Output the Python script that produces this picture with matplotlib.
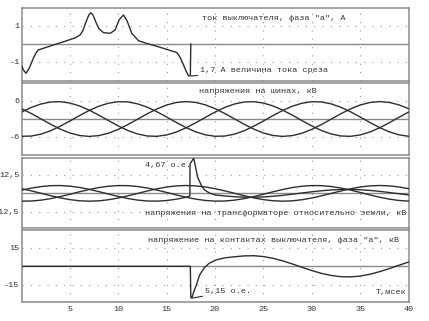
import matplotlib
matplotlib.use("Agg")
import matplotlib.pyplot as plt

# ---------------- data ----------------
# panel 1: breaker current, phase "a", A
cur_t = [0.0, 0.2, 0.47, 0.8, 1.22, 1.5, 1.74, 2.5, 3.5, 4.5, 5.5, 6.06, 6.35, 6.65, 6.95,
         7.16, 7.4, 7.7, 8.0, 8.47, 9.16, 9.68, 10.1, 10.54, 10.9, 11.4, 12.1, 13.0, 14.0,
         15.0, 16.07, 16.4, 16.75, 17.0, 17.27, 17.45, 17.5]
cur_v = [-1.17, -1.45, -1.63, -1.35, -0.8, -0.5, -0.33, -0.2, -0.02, 0.15, 0.33, 0.5, 0.75,
         1.2, 1.6, 1.74, 1.6, 1.2, 0.85, 0.63, 0.59, 0.78, 1.35, 1.61, 1.3, 0.59, 0.18, 0.02,
         -0.13, -0.3, -0.48, -0.75, -1.17, -1.5, -1.78, -1.75, 0.0]

# panel 2: bus voltages, kV (1 ms steps)
t_ms = list(range(0, 41))
bus_a = [2.30, 3.84, 4.99, 5.66, 5.77, 5.32, 4.35, 2.95, 1.27, -0.55,
         -2.30, -3.84, -4.99, -5.66, -5.77, -5.32, -4.35, -2.95, -1.27, 0.55,
         2.30, 3.84, 4.99, 5.66, 5.77, 5.32, 4.35, 2.95, 1.27, -0.55,
         -2.30, -3.84, -4.99, -5.66, -5.77, -5.32, -4.35, -2.95, -1.27, 0.55, 2.30]
bus_b = [-5.76, -5.69, -5.05, -3.93, -2.41, -0.67, 1.15, 2.85, 4.27, 5.27,
         5.76, 5.69, 5.05, 3.93, 2.41, 0.67, -1.15, -2.85, -4.27, -5.27,
         -5.76, -5.69, -5.05, -3.93, -2.41, -0.67, 1.15, 2.85, 4.27, 5.27,
         5.76, 5.69, 5.05, 3.93, 2.41, 0.67, -1.15, -2.85, -4.27, -5.27, -5.76]
bus_c = [3.46, 1.85, 0.06, -1.73, -3.36, -4.66, -5.50, -5.80, -5.53, -4.73,
         -3.46, -1.85, -0.06, 1.73, 3.36, 4.66, 5.50, 5.80, 5.53, 4.73,
         3.46, 1.85, 0.06, -1.73, -3.36, -4.66, -5.50, -5.80, -5.53, -4.73,
         -3.46, -1.85, -0.06, 1.73, 3.36, 4.66, 5.50, 5.80, 5.53, 4.73, 3.46]

# panel 3: transformer voltages to ground, kV
tr_a_t = [0, 1, 2, 3, 4, 5, 6, 7, 8, 9, 10, 11, 12, 13, 14, 15, 16, 17, 17.4, 17.42,
          17.8, 18.2, 18.6, 18.9, 19.4, 20, 21, 22, 23, 24, 25, 26, 27, 28, 29, 30, 31,
          32, 33, 34, 35, 36, 37, 38, 39, 40]
tr_a_v = [2.12, 3.53, 4.59, 5.21, 5.31, 4.89, 4.00, 2.71, 1.17, -0.51, -2.12, -3.53, -4.59,
          -5.21, -5.31, -4.89, -4.00, -2.71, -1.8, 20.0, 24.0, 11.0, 5.3, 2.4, 0.3, -1.06,
          -1.77, -2.30, -2.60, -2.65, -2.45, -2.00, -1.36, -0.58, 0.25, 1.06, 1.77, 2.30,
          2.60, 2.65, 2.45, 2.00, 1.36, 0.58, -0.25, -1.06]
tr_b_v = [-5.30, -5.23, -4.65, -3.62, -2.22, -0.62, 1.06, 2.62, 3.93, 4.85,
          5.30, 5.23, 4.65, 3.62, 2.22, 0.62, -1.06, -2.62, -3.93, -4.85,
          -5.30, -5.23, -4.65, -3.62, -2.22, -0.62, 1.06, 2.62, 3.93, 4.85,
          5.30, 5.23, 4.65, 3.62, 2.22, 0.62, -1.06, -2.62, -3.93, -4.85, -5.30]
tr_c_v = [3.18, 1.70, 0.06, -1.59, -3.09, -4.29, -5.06, -5.34, -5.09, -4.35,
          -3.18, -1.70, -0.06, 1.59, 3.09, 4.29, 5.06, 5.34, 5.09, 4.35,
          3.18, 1.70, 0.06, -1.59, -3.09, -4.29, -5.06, -5.34, -5.09, -4.35,
          -3.18, -1.70, -0.06, 1.59, 3.09, 4.29, 5.06, 5.34, 5.09, 4.35, 3.18]

# panel 4: voltage across breaker contacts, phase "a", kV
ct_t = [0, 17.45, 17.5, 17.6, 17.8, 18.06, 18.4, 18.9, 19.4, 20.1, 21, 22, 23, 24, 25, 26,
        27, 28, 29, 30, 31, 32, 33, 34, 35, 36, 37, 38, 39, 40]
ct_v = [0, 0, -25.5, -26.0, -21.0, -15.6, -7.3, -1.1, 2.5, 5.2, 6.9, 7.8, 8.5, 8.66,
        7.98, 6.53, 4.43, 1.91, -0.83, -3.45, -5.76, -7.49, -8.49, -8.66, -7.98, -6.53,
        -4.43, -1.91, 0.83, 3.45]

x_ticks = [5, 10, 15, 20, 25, 30, 35, 40]
x_tick_labels = ["5", "10", "15", "20", "25", "30", "35", "40"]

# ---------------- drawing ----------------
W, H = 429, 321
fig = plt.figure(figsize=(W / 100, H / 100), dpi=100)
FONT = "Liberation Mono"
FS = 6.1
CURVE = "#2e2e2e"
FRAME = "#8a8a8a"
GRID = "#9a9a9a"
TXT = "#333333"
DOTS = (0, (1, 6.5))

left, right = 21.5, 408.5


def make_ax(top_px, bot_px, ylim, yt, ytl):
    ax = fig.add_axes([left / W, 1 - bot_px / H, (right - left) / W, (bot_px - top_px) / H])
    ax.set_xlim(0, 40)
    ax.set_ylim(*ylim)
    for s in ax.spines.values():
        s.set_color(FRAME)
        s.set_linewidth(1.1)
    ax.set_xticks(x_ticks)
    ax.set_yticks(yt)
    ax.set_yticklabels(ytl, fontfamily=FONT, fontsize=FS, color=TXT)
    ax.tick_params(length=0, pad=1.5)
    ax.set_xticklabels([])
    for xv in x_ticks[:-1]:
        ax.axvline(xv, color=GRID, lw=0.8, ls=DOTS, zorder=1)
    for yv in yt:
        ax.axhline(yv, color=GRID, lw=0.8, ls=DOTS, zorder=1)
    ax.axhline(0, color=FRAME, lw=1.0, zorder=2)
    return ax


ax1 = make_ax(8, 81, (-2.06, 2.0), [1, -1], ["1", "-1"])
ax1.plot(cur_t, cur_v, color=CURVE, lw=1.0, zorder=3)
ax1.text(18.65, 1.43, 'ток выключателя, фаза "а", А', fontfamily=FONT, fontsize=FS,
         color=TXT, va="center")
ax1.annotate("1,7 А величина тока среза", xy=(17.5, -1.78), xytext=(18.5, -1.48),
             fontfamily=FONT, fontsize=FS, color=TXT, va="center",
             arrowprops=dict(arrowstyle="-", color=CURVE, lw=0.8, shrinkA=0, shrinkB=0))

ax2 = make_ax(83, 155, (-12, 12), [6, -6], ["6", "-6"])
for ser in (bus_a, bus_b, bus_c):
    ax2.plot(t_ms, ser, color=CURVE, lw=1.0, zorder=3)
ax2.text(18.3, 9.1, "напряжения на шинах, кВ", fontfamily=FONT, fontsize=FS,
         color=TXT, va="center")

ax3 = make_ax(157.5, 228, (-23.6, 24.4), [12.5, -12.5], ["12,5", "-12,5"])
ax3.plot(tr_a_t, tr_a_v, color=CURVE, lw=1.0, zorder=3)
ax3.plot(t_ms, tr_b_v, color=CURVE, lw=1.0, zorder=3)
ax3.plot(t_ms, tr_c_v, color=CURVE, lw=1.0, zorder=3)
ax3.text(12.8, 19.0, "4,67 о.е.", fontfamily=FONT, fontsize=FS, color=TXT, va="center")
ax3.text(12.8, -13.6, "напряжения на трансформаторе относительно земли, кВ",
         fontfamily=FONT, fontsize=FS, color=TXT, va="center")

ax4 = make_ax(230, 302, (-29.2, 29.7), [15, -15], ["15", "-15"])
ax4.plot(ct_t, ct_v, color=CURVE, lw=1.0, zorder=3)
ax4.text(13.1, 21.0, 'напряжение на контактах выключателя, фаза "а", кВ',
         fontfamily=FONT, fontsize=FS, color=TXT, va="center")
ax4.annotate("5,15 о.е.", xy=(17.65, -26.0), xytext=(19.0, -20.8),
             fontfamily=FONT, fontsize=FS, color=TXT, va="center",
             arrowprops=dict(arrowstyle="-", color=CURVE, lw=0.8, shrinkA=0, shrinkB=0))
ax4.text(39.8, -21.5, "Т,мсек", fontfamily=FONT, fontsize=FS, color=TXT,
         va="center", ha="right")
ax4.set_xticklabels(x_tick_labels, fontfamily=FONT, fontsize=FS, color=TXT)
ax4.tick_params(axis="x", pad=3)

fig.savefig("out.png", dpi=100, facecolor="white")
